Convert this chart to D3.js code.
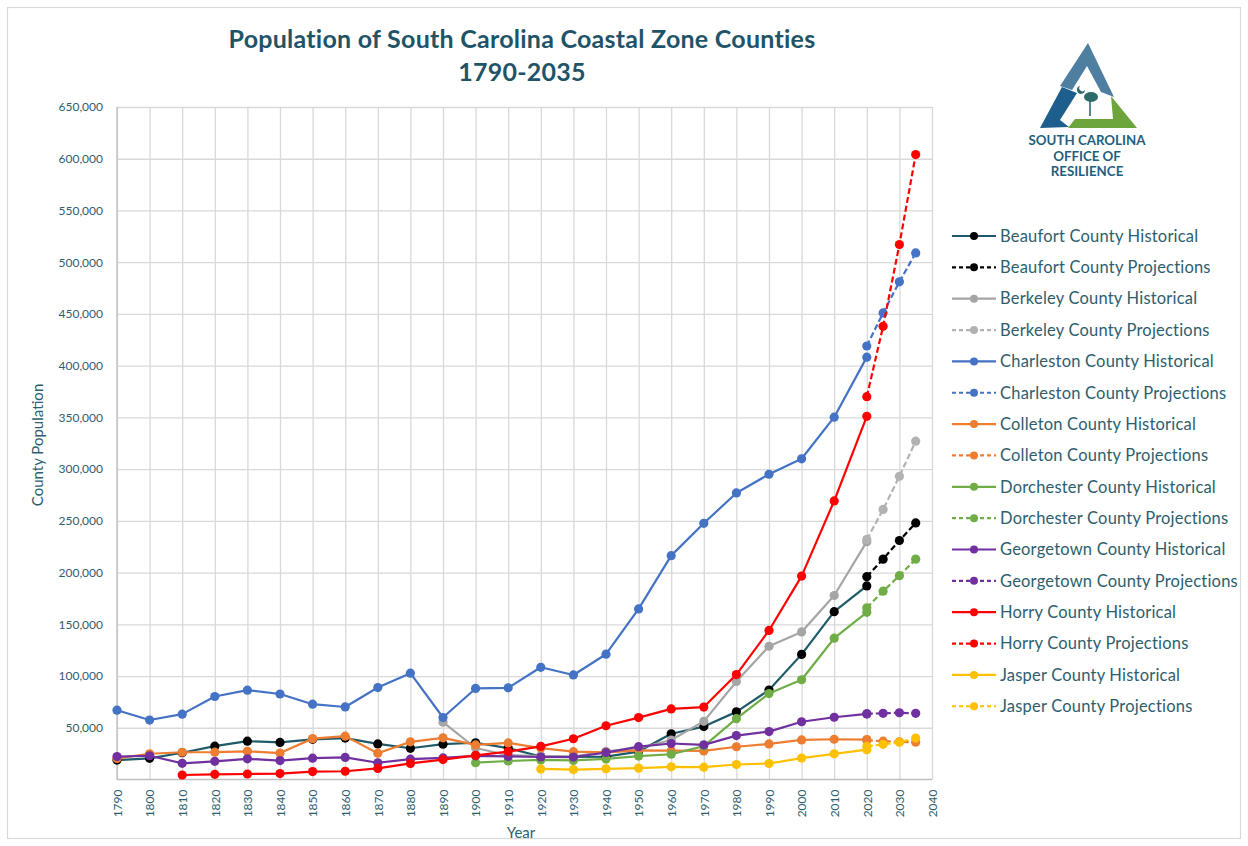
<!DOCTYPE html>
<html><head><meta charset="utf-8">
<script src="https://cdn.jsdelivr.net/npm/d3@7"></script>
<style>body{margin:0;background:#fff;} svg{display:block;font-family:Lato,"Open Sans",sans-serif;}</style>
</head><body><svg id="c" width="1248" height="846"></svg>
<script>
const years = [1790,1800,1810,1820,1830,1840,1850,1860,1870,1880,1890,1900,1910,1920,1930,1940,1950,1960,1970,1980,1990,2000,2010,2020];
const projYears = [2020,2025,2030,2035];
const beaufortHist = [18753,20428,25887,32199,37032,35794,38805,40053,34359,30176,34119,35495,30355,22269,21815,22037,26993,44187,51136,65364,86425,120937,162233,187117];
const berkeleyHist = [null,null,null,null,null,null,null,null,null,null,55428,30454,23487,22558,22236,27128,30251,38196,56199,94727,128776,142651,177843,229861];
const charlestonHist = [66985,57480,63179,80212,86338,82661,72805,70100,88863,102800,59903,88006,88594,108450,101050,121105,164856,216382,247650,276974,295039,309969,350209,408235];
const colletonHist = [20339,24903,26359,26404,27256,25548,39505,41916,25410,36386,40293,33452,35390,30406,26896,26268,28242,27816,27622,31676,34377,38264,38892,38604];
const dorchesterHist = [null,null,null,null,null,null,null,null,null,null,null,16294,17891,18956,18452,19928,22601,24383,32276,58761,83060,96413,136555,161540];
const georgetownHist = [22122,22938,15679,17603,19943,18274,20647,21305,16161,19613,20857,22846,22270,21738,21716,26029,31762,34798,33500,42461,46302,55797,60158,63404];
const horryHist = [null,null,4349,5025,5323,5755,7646,7962,10721,15574,19256,23364,26995,32077,39376,51951,59820,68247,69992,101419,144053,196629,269291,351029];
const jasperHist = [null,null,null,null,null,null,null,null,null,null,null,null,null,10261,9628,10363,10995,12237,11885,14504,15487,20678,24777,28791];
const beaufortProj = [196000,213000,231000,248000];
const berkeleyProj = [232000,261000,293000,327000];
const charlestonProj = [419000,451000,481000,509000];
const colletonProj = [38000,37000,36500,36000];
const dorchesterProj = [166000,182000,197000,213000];
const georgetownProj = [63500,64000,64500,64000];
const horryProj = [370000,438000,517000,604000];
const jasperProj = [32000,34000,36000,40000];
const xTicks = d3.range(1790, 2041, 10);
const yTicks = d3.range(50000, 650001, 50000);

const series = [
  {name:"Beaufort County Historical", yrs:years, vals:beaufortHist, line:"#1F5A68", dot:"#000000", dash:null},
  {name:"Beaufort County Projections", yrs:projYears, vals:beaufortProj, line:"#000000", dot:"#000000", dash:"6,3"},
  {name:"Berkeley County Historical", yrs:years, vals:berkeleyHist, line:"#A5A5A5", dot:"#A5A5A5", dash:null},
  {name:"Berkeley County Projections", yrs:projYears, vals:berkeleyProj, line:"#B2B2B2", dot:"#B2B2B2", dash:"6,3"},
  {name:"Charleston County Historical", yrs:years, vals:charlestonHist, line:"#4472C4", dot:"#4472C4", dash:null},
  {name:"Charleston County Projections", yrs:projYears, vals:charlestonProj, line:"#4472C4", dot:"#4472C4", dash:"6,3"},
  {name:"Colleton County Historical", yrs:years, vals:colletonHist, line:"#ED7D31", dot:"#ED7D31", dash:null},
  {name:"Colleton County  Projections", yrs:projYears, vals:colletonProj, line:"#ED7D31", dot:"#ED7D31", dash:"6,3"},
  {name:"Dorchester County Historical", yrs:years, vals:dorchesterHist, line:"#70AD47", dot:"#70AD47", dash:null},
  {name:"Dorchester County Projections", yrs:projYears, vals:dorchesterProj, line:"#70AD47", dot:"#70AD47", dash:"6,3"},
  {name:"Georgetown County Historical", yrs:years, vals:georgetownHist, line:"#7030A0", dot:"#7030A0", dash:null},
  {name:"Georgetown County Projections", yrs:projYears, vals:georgetownProj, line:"#7030A0", dot:"#7030A0", dash:"6,3"},
  {name:"Horry County Historical", yrs:years, vals:horryHist, line:"#FF0000", dot:"#FF0000", dash:null},
  {name:"Horry County Projections", yrs:projYears, vals:horryProj, line:"#FF0000", dot:"#FF0000", dash:"6,3"},
  {name:"Jasper County Historical", yrs:years, vals:jasperHist, line:"#FFC000", dot:"#FFC000", dash:null},
  {name:"Jasper County Projections", yrs:projYears, vals:jasperProj, line:"#FFC000", dot:"#FFC000", dash:"6,3"}
];

const svg = d3.select("#c");
const txt = "#2E5E6E";
svg.append("rect").attr("x",7.5).attr("y",7.5).attr("width",1233).attr("height",831)
  .attr("fill","#fff").attr("stroke","#D9D9D9").attr("stroke-width",1.2);

const x = d3.scaleLinear().domain([1790,2040]).range([117,932]);
const y = d3.scaleLinear().domain([0,650000]).range([779.5,107]);

// grid
const gx = svg.append("g").attr("transform","translate(0,779.5)")
  .call(d3.axisBottom(x).tickValues(xTicks).tickSize(-(779.5-107)).tickFormat(""));
gx.selectAll("line").attr("stroke","#D9D9D9").attr("stroke-width",1.3);
gx.select(".domain").remove();
const gy = svg.append("g").attr("transform","translate(117,0)")
  .call(d3.axisLeft(y).tickValues(yTicks).tickSize(-(932-117)).tickFormat(""));
gy.selectAll("line").attr("stroke","#D9D9D9").attr("stroke-width",1.3);
gy.select(".domain").remove();
// axis lines
svg.append("line").attr("x1",117).attr("x2",932).attr("y1",y(0)).attr("y2",y(0)).attr("stroke","#BFBFBF").attr("stroke-width",1.3);
svg.append("line").attr("x1",117).attr("x2",117).attr("y1",107).attr("y2",y(0)).attr("stroke","#BFBFBF").attr("stroke-width",1.3);

// y labels
const ya = svg.append("g").attr("transform","translate(117,0)")
  .call(d3.axisLeft(y).tickValues(yTicks).tickSize(0).tickPadding(14).tickFormat(d3.format(",")));
ya.select(".domain").remove();
ya.selectAll("text").attr("fill",txt).style("font-size","12px").style("font-family","Lato,sans-serif");

// x labels
const xa = svg.append("g").attr("transform","translate(0,779.5)")
  .call(d3.axisBottom(x).tickValues(xTicks).tickSize(0).tickFormat(d3.format("d")));
xa.select(".domain").remove();
xa.selectAll("text").attr("fill",txt).style("font-size","12px").style("font-family","Lato,sans-serif")
  .attr("transform","rotate(-90)").attr("x",-10).attr("y",0).attr("dy","0.35em").attr("text-anchor","end");

// series
const line = d3.line().defined(d=>d.v!=null).x(d=>x(d.t)).y(d=>y(d.v));
series.forEach(s=>{
  const pts = s.yrs.map((t,i)=>({t, v:s.vals[i]}));
  const g = svg.append("g");
  g.append("path").datum(pts).attr("d",line).attr("fill","none").attr("stroke",s.line)
    .attr("stroke-width",2.2).attr("stroke-dasharray",s.dash).attr("stroke-linejoin","round");
  g.selectAll("circle").data(pts.filter(d=>d.v!=null)).join("circle")
    .attr("cx",d=>x(d.t)).attr("cy",d=>y(d.v)).attr("r",4.6).attr("fill",s.dot);
});

// legend
const lg = svg.append("g");
series.forEach((s,i)=>{
  const ly = 236 + i*31.35;
  lg.append("line").attr("x1",952).attr("x2",996).attr("y1",ly).attr("y2",ly)
    .attr("stroke",s.line).attr("stroke-width",2.2).attr("stroke-dasharray",s.dash?"4,3":null);
  lg.append("circle").attr("cx",974).attr("cy",ly).attr("r",4).attr("fill",s.dot);
  lg.append("text").attr("x",1000).attr("y",ly).attr("dy","0.35em").attr("fill",txt)
    .style("font-size","16.5px").style("letter-spacing","0.2px").text(s.name);
});

// titles
svg.append("text").attr("x",522).attr("y",48).attr("text-anchor","middle").attr("fill","#1F5468")
  .style("font-size","25px").style("font-weight","bold").style("letter-spacing","0.25px").text("Population of South Carolina Coastal Zone Counties");
svg.append("text").attr("x",522).attr("y",81).attr("text-anchor","middle").attr("fill","#1F5468")
  .style("font-size","25px").style("font-weight","bold").style("letter-spacing","0.25px").text("1790-2035");
svg.append("text").attr("x",521).attr("y",838).attr("text-anchor","middle").attr("fill",txt)
  .style("font-size","15px").text("Year");
svg.append("text").attr("transform","translate(43,445) rotate(-90)").attr("text-anchor","middle").attr("fill",txt)
  .style("font-size","15px").text("County Population");

// logo
const logo = svg.append("g");
logo.append("polygon").attr("points","1088,43 1114,97 1101,92 1087,66 1072,90 1060,86").attr("fill","#4F7FA0");
logo.append("polygon").attr("points","1062,87 1077,93 1060,120 1069,127 1040,128").attr("fill","#1E5E8C");
logo.append("polygon").attr("points","1111,96 1137,128 1068,128 1075,119 1113,119").attr("fill","#6CA53B");
logo.append("line").attr("x1",1090).attr("x2",1090).attr("y1",100).attr("y2",116).attr("stroke","#2D6B6B").attr("stroke-width",1.6);
logo.append("ellipse").attr("cx",1091).attr("cy",97).attr("rx",7).attr("ry",5).attr("fill","#2D6B6B");
logo.append("path").attr("d","M1080,86 a4,4 0 1,0 5,4 a3,3 0 1,1 -5,-4z").attr("fill","#2D6B6B");
["SOUTH CAROLINA","OFFICE OF","RESILIENCE"].forEach((t,i)=>{
  logo.append("text").attr("x",1087).attr("y",145+i*15.5).attr("text-anchor","middle").attr("fill","#1F5F7E")
    .style("font-size","13.3px").style("font-weight","bold").text(t);
});
</script></body></html>
